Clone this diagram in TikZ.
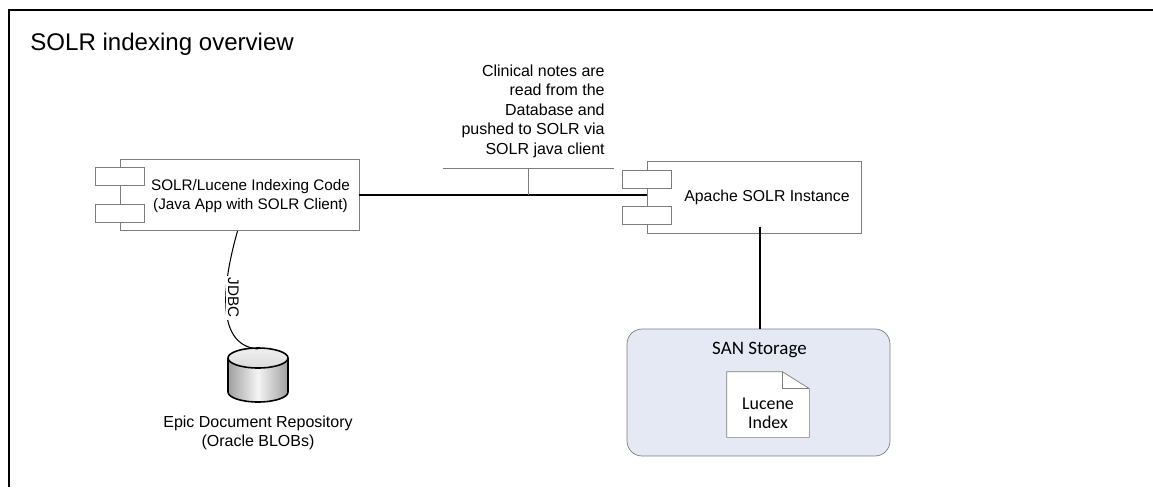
\documentclass[tikz,border=0pt]{standalone}
\usepackage{fontspec}
\setmainfont{Liberation Sans}
\newfontfamily\calibri{Carlito}
\usetikzlibrary{calc}
\definecolor{boxgray}{RGB}{125,125,125}
\definecolor{sanfill}{RGB}{228,233,243}

\begin{document}
\begin{tikzpicture}[x=0.02cm,y=0.02cm,
  comp/.style={draw=boxgray,fill=white,minimum width=#1,minimum height=1.43cm},
  tab/.style={draw=boxgray,fill=white,minimum width=0.98cm,minimum height=0.36cm},
  txt/.style={font=\fontsize{8.7pt}{10.3pt}\selectfont,align=center},
  note/.style={font=\fontsize{9.1pt}{11.1pt}\selectfont,align=right},
  cal/.style={font=\calibri\fontsize{#1}{11pt}\selectfont,align=center}]
\tikzstyle{every node}+=[inner sep=0pt]
\useasboundingbox (0,0) rectangle (1153,-487);
\draw [line width=1.1pt] (1153,-10) -- (9,-10) -- (9,-487);
\node [anchor=base west,font=\fontsize{13.7pt}{16pt}\selectfont] (title) at (30,-50) {SOLR indexing overview};
% indexing app
\node [comp=4.78cm] (idx) at (239.5,-195) {};
\node [tab] (idxa) at ($(idx.west)+(0,18.5)$) {};
\node [tab] (idxb) at ($(idx.west)+(0,-18)$) {};
\node [txt] (idxtxt) at ($(idx)+(11,-1)$) {SOLR/Lucene Indexing Code\\(Java App with SOLR Client)};
% solr instance
\node [comp=4.28cm] (solr) at (754,-197.5) {};
\node [tab] (solra) at ($(solr.west)+(0,18)$) {};
\node [tab] (solrb) at ($(solr.west)+(0,-18)$) {};
\node [txt,font=\fontsize{9pt}{11pt}\selectfont] (solrtxt) at ($(solr)+(13,0)$) {Apache SOLR Instance};
\draw [line width=0.8pt] (idx.east) -- (idx.east -| solr.west);
% note on the link
\node [note,anchor=south east] (note) at (605,-158) {Clinical notes are\\read from the\\Database and\\pushed to SOLR via\\SOLR java client};
\coordinate (busl) at (443,-168);
\coordinate (busr) at (614,-168);
\coordinate (busm) at (528,-168);
\draw [boxgray,line width=0.5pt] (busl) -- (busr);
\draw [boxgray,line width=0.5pt] (busm) -- (busm |- idx.east);
% database
\coordinate (dbtop) at (258,-349);
\shade [left color=gray!75,right color=gray!75,middle color=gray!8] (228,-358) -- (228,-392) arc [start angle=180,end angle=360,x radius=30,y radius=10] -- (288,-358) -- cycle;
\draw [line width=0.9pt] (228,-358) -- (228,-392) arc [start angle=180,end angle=360,x radius=30,y radius=10] -- (288,-358);
\shade [top color=gray!12,bottom color=gray!28] (258,-358) ellipse [x radius=30,y radius=10];
\draw [line width=0.9pt] (258,-358) ellipse [x radius=30,y radius=10];
\draw [line width=0.6pt] ($(idx.south)+(-2,0)$) .. controls (225,-275) and (212,-345) .. (dbtop)
  node [pos=0.45,rotate=-90,anchor=south,fill=white,inner sep=1pt,font=\fontsize{8.7pt}{10pt}\selectfont] {JDBC};
\node [note,align=center] (epic) at (258,-433) {Epic Document Repository\\(Oracle BLOBs)};
% storage
\node [draw=boxgray,fill=sanfill,rounded corners=0.3cm,minimum width=5.26cm,minimum height=2.54cm] (san) at (758.5,-392.5) {};
\node [cal=10.8pt,anchor=base] (santxt) at ($(san.north)+(1,-26)$) {SAN Storage};
\node [minimum width=1.64cm,minimum height=1.3cm] (lucidx) at (768,-404.5) {};
\draw [boxgray,fill=white] (lucidx.north west) -- ($(lucidx.north east)+(-27,0)$) -- ($(lucidx.north east)+(0,-17)$) -- (lucidx.south east) -- (lucidx.south west) -- cycle;
\draw [boxgray] ($(lucidx.north east)+(-27,0)$) -- ++(0,-17) -- ($(lucidx.north east)+(0,-17)$);
\node [cal=10.2pt] (lucidxtxt) at ($(lucidx)+(0,-9)$) {Lucene\\Index};
\coordinate (solrfoot) at ($(solr.south)+(6,7)$);
\draw [line width=0.7pt] (solrfoot) -- (solrfoot |- san.north);
\end{tikzpicture}
\end{document}
